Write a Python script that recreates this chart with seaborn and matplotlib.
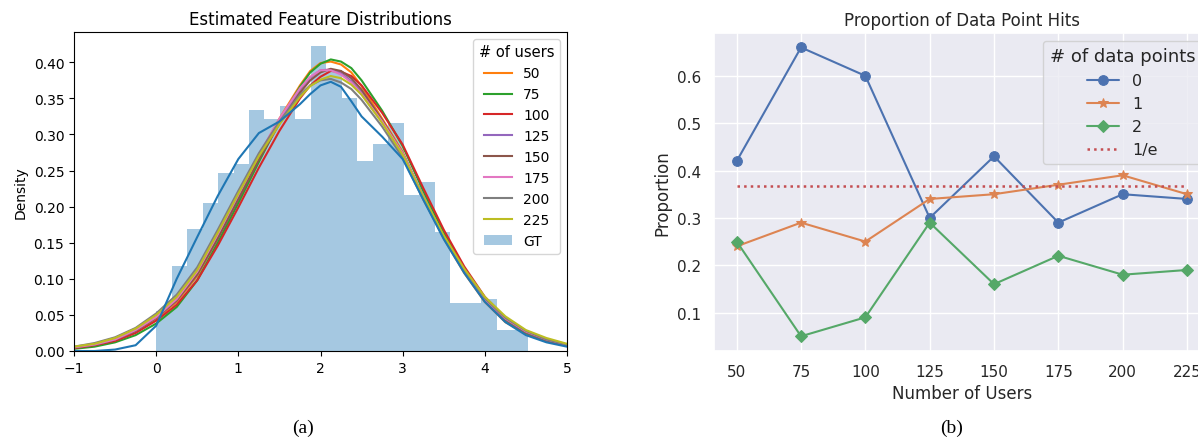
import numpy as np
import pandas as pd
import matplotlib
matplotlib.use("Agg")
import matplotlib.pyplot as plt
import seaborn as sns

# ---------------- left panel data ----------------
kde_x = [-1.0, -0.75, -0.5, -0.25, 0.0, 0.25, 0.5, 0.75, 1.0, 1.25, 1.5, 1.75, 1.875,
         2.0, 2.125, 2.25, 2.375, 2.5, 2.75, 3.0, 3.25, 3.5, 3.75, 4.0, 4.25, 4.5, 4.75, 5.0]
user_labels = ["50", "75", "100", "125", "150", "175", "200", "225"]
kde_50 = [0.004, 0.008, 0.015, 0.026, 0.044, 0.068, 0.104, 0.156, 0.212, 0.270, 0.322, 0.368, 0.388,
          0.399, 0.401, 0.397, 0.386, 0.367, 0.322, 0.276, 0.213, 0.156, 0.108, 0.068, 0.040, 0.024, 0.014, 0.008]
kde_75 = [0.003, 0.006, 0.012, 0.022, 0.038, 0.061, 0.098, 0.150, 0.205, 0.262, 0.318, 0.366, 0.386,
          0.398, 0.404, 0.401, 0.392, 0.375, 0.333, 0.284, 0.222, 0.164, 0.114, 0.072, 0.043, 0.025, 0.014, 0.008]
kde_100 = [0.004, 0.008, 0.014, 0.025, 0.042, 0.064, 0.098, 0.146, 0.199, 0.254, 0.305, 0.350, 0.368,
           0.380, 0.388, 0.387, 0.381, 0.368, 0.330, 0.286, 0.226, 0.168, 0.117, 0.075, 0.046, 0.027, 0.015, 0.008]
kde_125 = [0.005, 0.009, 0.016, 0.028, 0.046, 0.070, 0.107, 0.158, 0.213, 0.268, 0.318, 0.362, 0.379,
           0.389, 0.390, 0.385, 0.374, 0.358, 0.318, 0.274, 0.214, 0.158, 0.111, 0.072, 0.044, 0.026, 0.015, 0.008]
kde_150 = [0.005, 0.009, 0.016, 0.028, 0.046, 0.070, 0.106, 0.156, 0.210, 0.265, 0.315, 0.358, 0.375,
           0.386, 0.391, 0.388, 0.378, 0.362, 0.320, 0.274, 0.214, 0.158, 0.111, 0.072, 0.044, 0.026, 0.015, 0.008]
kde_175 = [0.005, 0.009, 0.016, 0.029, 0.047, 0.072, 0.110, 0.162, 0.217, 0.272, 0.322, 0.364, 0.380,
           0.389, 0.389, 0.383, 0.372, 0.356, 0.318, 0.274, 0.214, 0.158, 0.111, 0.072, 0.045, 0.027, 0.016, 0.009]
kde_200 = [0.006, 0.011, 0.019, 0.032, 0.052, 0.078, 0.116, 0.168, 0.222, 0.274, 0.318, 0.355, 0.368,
           0.375, 0.377, 0.372, 0.363, 0.348, 0.311, 0.268, 0.210, 0.157, 0.112, 0.073, 0.046, 0.028, 0.016, 0.009]
kde_225 = [0.006, 0.010, 0.018, 0.031, 0.050, 0.075, 0.112, 0.164, 0.218, 0.270, 0.314, 0.352, 0.367,
           0.376, 0.381, 0.378, 0.369, 0.355, 0.316, 0.272, 0.214, 0.160, 0.114, 0.075, 0.048, 0.029, 0.018, 0.010]
kde_gt = [0.000, 0.000, 0.002, 0.008, 0.035, 0.100, 0.158, 0.215, 0.266, 0.302, 0.318, 0.342, 0.356,
          0.368, 0.373, 0.366, 0.346, 0.325, 0.297, 0.266, 0.210, 0.155, 0.108, 0.068, 0.040, 0.022, 0.012, 0.006]
gt_hist_density = [0.055, 0.118, 0.169, 0.205, 0.2465, 0.259, 0.334, 0.322, 0.339, 0.322, 0.422, 0.390,
                   0.350, 0.263, 0.2875, 0.316, 0.2165, 0.2345, 0.165, 0.0665, 0.0665, 0.072, 0.0285, 0.0285]
hist_start, hist_end = 0.0, 4.52

# ---------------- right panel data ----------------
num_users = [50, 75, 100, 125, 150, 175, 200, 225]
hits_0 = [0.42, 0.66, 0.60, 0.30, 0.43, 0.29, 0.35, 0.34]
hits_1 = [0.24, 0.29, 0.25, 0.34, 0.35, 0.37, 0.39, 0.35]
hits_2 = [0.25, 0.05, 0.09, 0.29, 0.16, 0.22, 0.18, 0.19]
inv_e_level = [0.368] * 8

# ---------------- figure ----------------
W, H = 1198, 439
fig = plt.figure(figsize=(W / 100, H / 100), dpi=100)

def frac(x0, y0, x1, y1):
    return [x0 / W, 1 - y1 / H, (x1 - x0) / W, (y1 - y0) / H]

# Left panel: plain matplotlib look
ax1 = fig.add_axes(frac(74, 33, 567, 352))
tab10 = ["#1f77b4", "#ff7f0e", "#2ca02c", "#d62728", "#9467bd",
         "#8c564b", "#e377c2", "#7f7f7f", "#bcbd22"]
user_curves = [kde_50, kde_75, kde_100, kde_125, kde_150, kde_175, kde_200, kde_225]
for i, (lbl, ys) in enumerate(zip(user_labels, user_curves)):
    sns.lineplot(x=kde_x, y=ys, color=tab10[i + 1], linewidth=1.5, ax=ax1, label=lbl, legend=False)
user_handles = list(ax1.get_lines())

edges = np.linspace(hist_start, hist_end, len(gt_hist_density) + 1)
centers = (edges[:-1] + edges[1:]) / 2
hist_df = pd.DataFrame({"value": centers, "weight": gt_hist_density})
sns.histplot(data=hist_df, x="value", weights="weight", bins=[float(e) for e in edges],
             stat="count", color=tab10[0], alpha=0.4, linewidth=0, ax=ax1, label="GT")
sns.lineplot(x=kde_x, y=kde_gt, color=tab10[0], linewidth=1.5, ax=ax1, legend=False)

ax1.set_xlim(-1, 5)
ax1.set_ylim(0, 0.442)
ax1.set_yticks(np.arange(0, 0.41, 0.05))
ax1.yaxis.set_major_formatter(matplotlib.ticker.FormatStrFormatter("%.2f"))
ax1.set_xticks(range(-1, 6))
ax1.set_ylabel("Density")
ax1.set_xlabel("")
ax1.set_title("Estimated Feature Distributions")
gt_handle = ax1.patches[0]
ax1.legend(handles=user_handles + [gt_handle], labels=user_labels + ["GT"],
           title="# of users", loc="upper right", title_fontsize=10.5)

# Right panel: seaborn darkgrid
with sns.axes_style("darkgrid"), sns.plotting_context("notebook"):
    ax2 = fig.add_axes(frac(714.2, 34, 1209.5, 351.7))
    deep = sns.color_palette("deep")
    sns.lineplot(x=num_users, y=hits_0, marker="o", color=deep[0], mec=deep[0],
                 markersize=7, linewidth=1.5, label="0", ax=ax2)
    sns.lineplot(x=num_users, y=hits_1, marker="*", color=deep[1], mec=deep[1],
                 markersize=7.5, linewidth=1.5, label="1", ax=ax2)
    sns.lineplot(x=num_users, y=hits_2, marker="D", color=deep[2], mec=deep[2],
                 markersize=6.5, linewidth=1.5, label="2", ax=ax2)
    sns.lineplot(x=num_users, y=inv_e_level, color=deep[3], linestyle=":",
                 linewidth=1.8, label="1/e", ax=ax2)
    ax2.set_xticks(num_users)
    ax2.set_ylim(0.0195, 0.6905)
    ax2.set_xlim(41.25, 233.75)
    ax2.set_xlabel("Number of Users")
    ax2.set_ylabel("Proportion")
    ax2.set_title("Proportion of Data Point Hits")
    ax2.legend(title="# of data points", loc="upper right", fontsize=11.5,
               title_fontsize=13)

fig.text(303 / W, 1 - 428 / H, "(a)", ha="center", va="center",
         family="Liberation Serif", fontsize=14)
fig.text(952 / W, 1 - 428 / H, "(b)", ha="center", va="center",
         family="Liberation Serif", fontsize=14)

fig.savefig("out.png", dpi=100)
